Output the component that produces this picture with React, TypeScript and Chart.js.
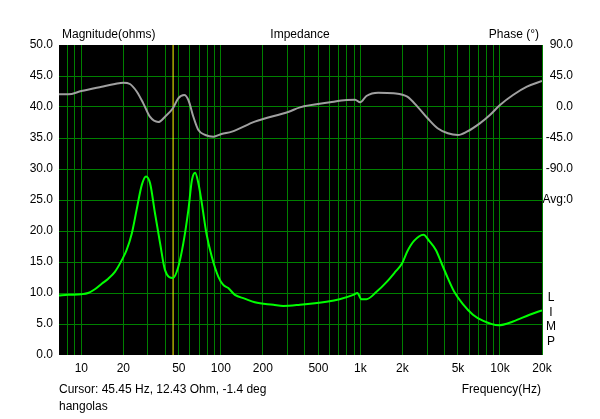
import { useEffect, useRef } from 'react';
import { Chart, registerables } from 'chart.js';

Chart.register(...registerables);

// Magnitude curve (ohms) vs frequency (Hz)
const magFreq = [6.92, 8, 10, 11.2, 12.5, 14, 15.6, 17.4, 19.5, 21.1, 23, 24.9, 27.1, 29.1, 31.1, 33.7, 36.7, 39.8, 45.45, 49.5, 53.8, 58.5, 62, 65.4, 69, 73, 78.8, 86, 96, 104, 113, 126, 148, 175, 238, 280, 369, 571, 709, 889, 951, 1015, 1104, 1304, 1543, 1775, 1990, 2166, 2420, 2830, 3107, 3480, 3780, 4230, 4700, 5420, 6400, 7590, 9740, 12400, 16300, 20000];
const magOhm = [9.6, 9.7, 9.8, 10.0, 10.6, 11.5, 12.3, 13.4, 15.3, 16.9, 19.6, 23.4, 27.4, 28.8, 27.7, 22.9, 18.0, 13.7, 12.43, 14.2, 18.0, 23.4, 28.2, 29.4, 27.7, 24.5, 19.6, 15.9, 12.6, 11.3, 10.8, 9.7, 9.1, 8.5, 8.1, 7.9, 8.1, 8.6, 9.0, 9.7, 10.0, 9.0, 9.0, 10.2, 11.8, 13.4, 14.8, 16.7, 18.4, 19.4, 18.4, 16.9, 15.0, 12.4, 10.2, 8.2, 6.5, 5.5, 4.8, 5.4, 6.5, 7.2];

// Phase curve (degrees) vs frequency (Hz)
const phaseFreq = [6.92, 8.07, 10, 14, 17.4, 20, 22.3, 25, 27.8, 31, 35.6, 39.8, 45.45, 49.5, 54.6, 58.5, 63.5, 69, 77.3, 88.4, 101, 120, 175, 307, 369, 606, 796, 915, 995, 1104, 1340, 1730, 2166, 2560, 3030, 3570, 4230, 5000, 5790, 7170, 8470, 10000, 12400, 15600, 20000];
const phaseDeg = [18.4, 18.4, 23.2, 29.5, 33.4, 35.3, 33.4, 22.2, 5.3, -14.1, -21.8, -14.1, -1.4, 12.6, 17.4, 10.2, -14.1, -33.4, -40.6, -43.1, -39.2, -35.8, -21.3, -6.8, -0.5, 6.8, 10.2, 10.6, 6.8, 16, 20.8, 19.9, 15, 0.5, -16.4, -30.9, -38.2, -40.6, -35.8, -23.7, -11.6, 2.9, 17.4, 29.5, 37.7];

const cursorFreq = 45.45;

const freqMin = 6.92;
const freqMax = 20000;
const freqGrid = [8, 9, 10, 20, 30, 40, 50, 60, 70, 80, 90, 100, 200, 300, 400, 500, 600, 700, 800, 900, 1000, 2000, 3000, 4000, 5000, 6000, 7000, 8000, 9000, 10000, 20000];
const freqTickValues = [10, 20, 50, 100, 200, 500, 1000, 2000, 5000, 10000, 20000];
const freqTickLabels = ['10', '20', '50', '100', '200', '500', '1k', '2k', '5k', '10k', '20k'];

const phaseLabelValues = [90, 45, 0, -45, -90];
const avgLabel = 'Avg:0';
const sideLetters = ['L', 'I', 'M', 'P'];

const titleText = 'Impedance';
const leftTitle = 'Magnitude(ohms)';
const rightTitle = 'Phase (°)';
const cursorText = 'Cursor: 45.45 Hz, 12.43 Ohm, -1.4 deg';
const nameText = 'hangolas';
const xTitle = 'Frequency(Hz)';

const FONT = '"Liberation Sans", Arial, sans-serif';

export default function App() {
  const ref = useRef<HTMLCanvasElement>(null);

  useEffect(() => {
    document.body.style.margin = '0';
    const canvas = ref.current;
    if (!canvas) return;

    const bgPlugin = {
      id: 'plotBg',
      beforeDraw(chart: any) {
        const { ctx, chartArea: a } = chart;
        ctx.save();
        ctx.fillStyle = '#000000';
        ctx.fillRect(a.left, a.top, a.right - a.left, a.bottom - a.top);
        ctx.restore();
      },
    };

    const textPlugin = {
      id: 'texts',
      afterDraw(chart: any) {
        const { ctx, chartArea: a } = chart;
        ctx.save();
        ctx.font = `12px ${FONT}`;
        ctx.fillStyle = '#000000';
        ctx.textBaseline = 'middle';
        ctx.textAlign = 'left';
        ctx.fillText(leftTitle, a.left + 3, 35);
        ctx.fillText(cursorText, a.left, 390);
        ctx.fillText(nameText, a.left, 407);
        ctx.textAlign = 'center';
        ctx.fillText(titleText, 300, 35);
        ctx.textAlign = 'right';
        ctx.fillText(rightTitle, a.right - 3, 35);
        ctx.fillText(xTitle, a.right - 1, 390);
        ctx.textAlign = 'center';
        sideLetters.forEach((l, i) => {
          ctx.fillText(l, a.right + 9, 298 + i * 14.4);
        });
        ctx.restore();
      },
    };

    const chart = new Chart(canvas, {
      type: 'line',
      data: {
        datasets: [
          {
            label: 'Magnitude',
            data: magFreq.map((f, i) => ({ x: f, y: magOhm[i] })),
            borderColor: '#00ff00',
            borderWidth: 2,
            pointRadius: 0,
            cubicInterpolationMode: 'monotone',
            yAxisID: 'y',
            order: 1,
          },
          {
            label: 'Phase',
            data: phaseFreq.map((f, i) => ({ x: f, y: phaseDeg[i] })),
            borderColor: '#a0a0a0',
            borderWidth: 2,
            pointRadius: 0,
            cubicInterpolationMode: 'monotone',
            yAxisID: 'y2',
            order: 2,
          },
          {
            label: 'Cursor',
            data: [
              { x: cursorFreq, y: 0 },
              { x: cursorFreq, y: 50 },
            ],
            borderColor: '#ffff00',
            borderWidth: 1,
            pointRadius: 0,
            yAxisID: 'y',
            order: 3,
          },
        ],
      },
      options: {
        responsive: false,
        animation: false,
        events: [],
        layout: { padding: { top: 45, left: 0, right: 27, bottom: 0 } },
        plugins: {
          legend: { display: false },
          tooltip: { enabled: false },
          title: { display: false },
        },
        scales: {
          x: {
            type: 'logarithmic',
            min: freqMin,
            max: freqMax,
            border: { display: false },
            grid: { color: '#008000', lineWidth: 1, drawTicks: false },
            afterBuildTicks: (scale: any) => {
              scale.ticks = freqGrid.map((v) => ({ value: v }));
            },
            afterFit: (scale: any) => {
              scale.height = 64;
            },
            ticks: {
              autoSkip: false,
              maxRotation: 0,
              padding: 6,
              color: '#000000',
              font: { family: FONT, size: 12 },
              callback: (value: any) => {
                const idx = freqTickValues.indexOf(Number(value));
                return idx >= 0 ? freqTickLabels[idx] : '';
              },
            },
          },
          y: {
            type: 'linear',
            position: 'left',
            min: 0,
            max: 50,
            border: { display: false },
            grid: {
              drawTicks: false,
              lineWidth: 1,
              color: (ctx: any) =>
                ctx.tick && (ctx.tick.value === 0 || ctx.tick.value === 50) ? 'rgba(0,0,0,0)' : '#008000',
            },
            afterFit: (scale: any) => {
              scale.width = 59;
            },
            ticks: {
              stepSize: 5,
              padding: 6,
              color: '#000000',
              font: { family: FONT, size: 12 },
              callback: (value: any) => Number(value).toFixed(1),
            },
          },
          y2: {
            type: 'linear',
            position: 'right',
            min: -360,
            max: 90,
            border: { display: false },
            grid: { display: false, drawTicks: false },
            afterFit: (scale: any) => {
              scale.width = 31;
            },
            ticks: {
              stepSize: 45,
              padding: 3,
              crossAlign: 'far',
              color: '#000000',
              font: { family: FONT, size: 12 },
              callback: (value: any) => {
                const v = Number(value);
                if (phaseLabelValues.indexOf(v) >= 0) return v.toFixed(1);
                if (v === -135) return avgLabel;
                return '';
              },
            },
          },
        },
      },
      plugins: [bgPlugin, textPlugin],
    } as any);

    return () => chart.destroy();
  }, []);

  return (
    <div style={{ width: 600, height: 419, position: 'relative' }}>
      <canvas ref={ref} width={600} height={419} style={{ display: 'block' }} />
    </div>
  );
}
